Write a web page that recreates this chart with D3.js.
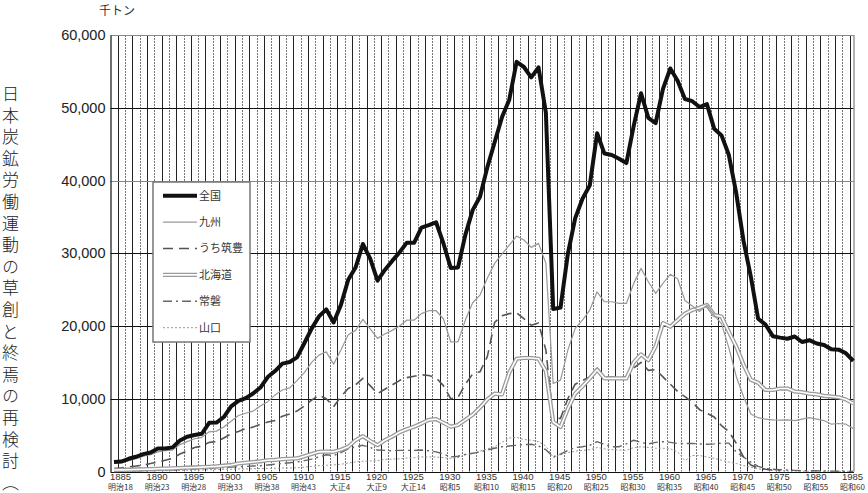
<!DOCTYPE html>
<html>
<head>
<meta charset="utf-8">
<script src="https://cdn.jsdelivr.net/npm/d3@7"></script>
<style>
  body { margin: 0; background: #fff; }
  svg { display: block; }
</style>
</head>
<body>
<div class="root"></div>
<script>
// 石炭生産高（千トン） 1885-1986
var firstYear = 1885;
var lastYear = 1986;

var zenkoku = [
  1294, 1374, 1746, 2024, 2389,
  2608, 3176, 3176, 3317, 4268,
  4773, 5020, 5188, 6696, 6722,
  7489, 8946, 9702, 10088, 10724,
  11542, 12980, 13804, 14825, 15048,
  15681, 17632, 19639, 21316, 22293,
  20491, 22902, 26361, 28029, 31271,
  29245, 26221, 27702, 28949, 30111,
  31459, 31427, 33531, 33860, 34258,
  31376, 27987, 28053, 32524, 35925,
  37762, 41803, 45258, 48684, 51113,
  56313, 55602, 54178, 55539, 49335,
  22335, 22523, 29900, 34793, 37500,
  39330, 46490, 43700, 43500, 43000,
  42400, 47500, 52000, 48600, 47900,
  52600, 55400, 53700, 51200, 50900,
  50100, 50500, 47100, 46200, 43500,
  38300, 31700, 26800, 21000, 20200,
  18600, 18400, 18250, 18560, 17800,
  18050, 17600, 17400, 16800, 16750,
  16250, 15200
];

var kyushu = [
  1100, 1200, 1500, 1750, 2100,
  2300, 2700, 2850, 2950, 3700,
  4100, 4500, 4700, 5450, 5550,
  6130, 6900, 7700, 8000, 8300,
  9000, 9600, 10500, 11200, 11500,
  12500, 13600, 15000, 16000, 16450,
  14760, 16700, 18800, 19400, 20900,
  19600, 18300, 18900, 19400, 20000,
  20800, 20800, 21700, 22100, 22100,
  21000, 17830, 17830, 20810, 23200,
  24250, 26550, 28610, 29890, 31130,
  32370, 31820, 30810, 31360, 28610,
  12100, 12560, 16690, 19670, 20810,
  22190, 24700, 23330, 23330, 23100,
  23100, 25860, 27920, 26080, 24480,
  25860, 27100, 26500, 23500, 22750,
  22000, 22870, 21500, 20300, 17000,
  13100, 10300, 7900, 7400, 7200,
  7100, 7050, 7100, 7000, 7200,
  7400, 7200, 7000, 6500, 6600,
  6500, 5900
];

var chikuho = [
  400, 500, 630, 750, 870,
  1100, 1300, 1550, 1800, 2400,
  2800, 3300, 3500, 4000, 4100,
  4600, 5200, 5500, 5900, 6100,
  6500, 6800, 7000, 7600, 7900,
  8300, 9000, 9800, 10500, 10000,
  8900, 10300, 11400, 11900, 12800,
  11800, 10700, 11300, 11900, 12500,
  12900, 13100, 13300, 13200, 12900,
  11800, 10000, 10200, 12000, 13400,
  13700, 15800, 20500, 21400, 21700,
  21800, 21000, 20100, 20400, 16700,
  7300, 7300, 10000, 12000, 12500,
  13000, 14200, 13000, 13000, 13000,
  13000, 14200, 15000, 13900, 14000,
  13000, 12000, 11000, 10300, 9500,
  8500, 8000, 7500, 6300, 5500,
  3900, 2000, 900, 500, 300,
  200, 100, null, null, null,
  null, null, null, null, null,
  null, null
];

var hokkaido = [
  200, 220, 250, 280, 300,
  330, 370, 400, 430, 480,
  520, 560, 600, 650, 700,
  800, 900, 1100, 1200, 1300,
  1400, 1550, 1600, 1700, 1750,
  1800, 2100, 2400, 2700, 2750,
  2700, 3000, 3400, 4300, 4860,
  4200, 3620, 4300, 4800, 5400,
  5800, 6150, 6600, 7100, 7200,
  6700, 6150, 6400, 7100, 7800,
  8800, 9900, 10700, 10600, 13600,
  15500, 15600, 15600, 15500, 13800,
  6800, 6100, 8600, 10700, 11700,
  12800, 14000, 12800, 12800, 12800,
  12800, 15000, 16100, 15300, 17200,
  20400, 19900, 20800, 21700, 22200,
  22500, 22900, 21500, 21300, 19200,
  17200, 14700, 12600, 12200, 11200,
  11200, 11400, 11400, 11000, 10900,
  10700, 10600, 10400, 10300, 10200,
  9900, 9350
];

var joban = [
  30, 40, 60, 80, 100,
  120, 150, 180, 220, 260,
  300, 350, 400, 450, 500,
  550, 600, 650, 700, 750,
  800, 900, 1000, 1100, 1200,
  1300, 1500, 1700, 2000, 2300,
  2200, 2600, 3100, 3400, 3600,
  3300, 2950, 2900, 2850, 2900,
  2900, 2900, 2950, 2850, 2700,
  2400, 2000, 2100, 2350, 2500,
  2700, 2950, 3200, 3400, 3500,
  3600, 3700, 3750, 3500, 3000,
  2000, 2400, 2900, 3300, 3400,
  3600, 4100, 3700, 3400, 3400,
  3800, 4300, 4000, 3800, 4000,
  4100, 4000, 3850, 3850, 3850,
  3800, 3750, 3800, 3900, 3900,
  2700, 2000, 1300, 700, 400,
  300, 250, 200, 150, 120,
  100, 100, 80, 50, 30,
  20, 10
];

var yamaguchi = [
  50, 60, 70, 80, 90,
  100, 110, 120, 130, 150,
  170, 190, 210, 240, 270,
  300, 320, 340, 360, 380,
  400, 420, 450, 470, 490,
  500, 600, 700, 800, 850,
  900, 1000, 1150, 1320, 1400,
  1450, 1500, 1650, 1700, 1750,
  1850, 1900, 2000, 2000, 2000,
  1900, 1800, 1900, 2300, 2500,
  2800, 3100, 3400, 4000, 4600,
  4700, 4400, 4300, 4100, 3500,
  1900, 2300, 2600, 2800, 2900,
  3000, 3300, 3100, 3000, 2950,
  2900, 3300, 3400, 3300, 3200,
  3200, 3100, 2700, 1500, 2200,
  2200, 2000, 1800, 1550, 1300,
  1100, 800, 600, 350, 250,
  150, 100, 80, 60, 50,
  40, 40, 30, 30, 30,
  20, 20
];

var tickYears = [1885, 1890, 1895, 1900, 1905, 1910, 1915, 1920, 1925, 1930,
  1935, 1940, 1945, 1950, 1955, 1960, 1965, 1970, 1975, 1980, 1985];
var eraLabels = ['明治18', '明治23', '明治28', '明治33', '明治38', '明治43', '大正4',
  '大正9', '大正14', '昭和5', '昭和10', '昭和15', '昭和20', '昭和25', '昭和30',
  '昭和35', '昭和40', '昭和45', '昭和50', '昭和55', '昭和60'];
var yTicks = [0, 10000, 20000, 30000, 40000, 50000, 60000];
var seriesNames = ['全国', '九州', 'うち筑豊', '北海道', '常磐', '山口'];
var sideTitle = '日本炭鉱労働運動の草創と終焉の再検討（出';

function drawChart() {
  var w = 868, h = 493;
  var top = 35, left = 110.5, right = 854;

  var svg = d3.select('.root').append('svg')
    .attr('width', w)
    .attr('height', h)
    .style('font-family', '"Liberation Sans", Arial, sans-serif');

  var years = d3.range(firstYear, lastYear + 1);

  var x = d3.scaleLinear().domain([firstYear, lastYear]).range([114, 853.3]);
  var y = d3.scaleLinear().domain([0, 60000]).range([471.5, top]);

  // vertical year grid
  svg.append('g').attr('class', 'vgrid')
    .selectAll('line')
    .data(d3.range(firstYear, lastYear))
    .enter().append('line')
      .attr('x1', function(d) { return Math.round(x(d + 0.5)) + 0.5; })
      .attr('x2', function(d) { return Math.round(x(d + 0.5)) + 0.5; })
      .attr('y1', y(60000))
      .attr('y2', y(0))
      .attr('stroke', function(d, i) { return i % 2 ? '#777' : '#222'; })
      .attr('stroke-width', 1)
      .attr('stroke-dasharray', function(d, i) { return i % 2 ? '2,1' : null; });

  // horizontal grid
  svg.append('g').attr('class', 'hgrid')
    .selectAll('line')
    .data(yTicks)
    .enter().append('line')
      .attr('x1', left)
      .attr('x2', right)
      .attr('y1', function(d) { return Math.round(y(d)) + 0.5; })
      .attr('y2', function(d) { return Math.round(y(d)) + 0.5; })
      .attr('stroke', function(d) { return (d === 40000 || d === 60000) ? '#888' : '#111'; })
      .attr('stroke-width', function(d) { return d === 0 ? 1.2 : 1; });

  svg.append('line')
    .attr('x1', right).attr('x2', right)
    .attr('y1', y(60000)).attr('y2', y(0))
    .attr('stroke', '#999').attr('stroke-width', 1.5);

  // y axis
  var yAxis = d3.axisLeft(y)
    .tickValues(yTicks)
    .tickSize(0)
    .tickPadding(5)
    .tickFormat(d3.format(','));
  var yg = svg.append('g')
    .attr('transform', 'translate(' + left + ',0)')
    .call(yAxis);
  yg.select('.domain').attr('stroke', '#111').attr('stroke-width', 1.2);
  yg.selectAll('text')
    .attr('font-size', '14.5px')
    .attr('font-family', '"Liberation Sans", Arial, sans-serif')
    .attr('fill', '#222');

  svg.append('text')
    .attr('x', 117)
    .attr('y', 15)
    .attr('text-anchor', 'middle')
    .attr('font-family', '"Noto Sans CJK JP", sans-serif')
    .attr('font-size', '12px')
    .attr('fill', '#333')
    .text('千トン');

  // x labels
  var xl = svg.append('g').attr('class', 'xlabels');
  xl.selectAll('text.yr')
    .data(tickYears)
    .enter().append('text')
      .attr('class', 'yr')
      .attr('x', function(d) { return x(d) + 6.5; })
      .attr('y', 479.5)
      .attr('text-anchor', 'middle')
      .attr('font-size', '9.5px')
      .attr('fill', '#333')
      .text(function(d) { return d; });
  xl.selectAll('text.era')
    .data(eraLabels)
    .enter().append('text')
      .attr('class', 'era')
      .attr('x', function(d, i) { return x(tickYears[i]) + 6.5; })
      .attr('y', 490)
      .attr('text-anchor', 'middle')
      .attr('font-family', '"Noto Sans CJK JP", sans-serif')
      .attr('font-size', '8px')
      .attr('fill', '#333')
      .text(function(d) { return d; });

  // series
  function pts(vals) {
    return years.map(function(yr, i) { return {year: yr, v: vals[i]}; });
  }
  var line = d3.line()
    .defined(function(d) { return d.v != null; })
    .x(function(d) { return x(d.year); })
    .y(function(d) { return y(d.v); });

  var styles = [
    {vals: yamaguchi, layers: [{stroke: '#999', width: 1, dash: '2,2'}]},
    {vals: joban, layers: [{stroke: '#666', width: 1.4, dash: '9,4,2,4'}]},
    {vals: chikuho, layers: [{stroke: '#555', width: 1.6, dash: '10,6'}]},
    {vals: hokkaido, layers: [{stroke: '#9a9a9a', width: 4.2, dash: null},
                              {stroke: '#fff', width: 1.6, dash: null}]},
    {vals: kyushu, layers: [{stroke: '#999', width: 1.2, dash: null}]},
    {vals: zenkoku, layers: [{stroke: '#111', width: 4, dash: null}]}
  ];

  var sg = svg.append('g').attr('class', 'series')
    .attr('fill', 'none')
    .attr('stroke-linejoin', 'round');
  styles.forEach(function(s) {
    s.layers.forEach(function(l) {
      sg.append('path')
        .datum(pts(s.vals))
        .attr('d', line)
        .attr('stroke', l.stroke)
        .attr('stroke-width', l.width)
        .attr('stroke-dasharray', l.dash);
    });
  });

  // legend
  var legendStyles = [
    [{stroke: '#111', width: 4, dash: null}],
    [{stroke: '#999', width: 1.2, dash: null}],
    [{stroke: '#555', width: 1.6, dash: '10,6'}],
    [{stroke: '#9a9a9a', width: 4.2, dash: null}, {stroke: '#fff', width: 1.6, dash: null}],
    [{stroke: '#666', width: 1.4, dash: '9,4,2,4'}],
    [{stroke: '#999', width: 1, dash: '2,2'}]
  ];
  var lg = svg.append('g').attr('class', 'legend');
  lg.append('rect')
    .attr('x', 153).attr('y', 182)
    .attr('width', 97).attr('height', 160)
    .attr('fill', '#fff')
    .attr('stroke', '#777')
    .attr('stroke-width', 1.5);
  var items = lg.selectAll('g.item')
    .data(seriesNames)
    .enter().append('g')
      .attr('class', 'item')
      .attr('transform', function(d, i) { return 'translate(0,' + (195.7 + i * 26.4) + ')'; });
  items.each(function(d, i) {
    var g = d3.select(this);
    legendStyles[i].forEach(function(l) {
      g.append('line')
        .attr('x1', 163).attr('x2', 197)
        .attr('y1', 0).attr('y2', 0)
        .attr('stroke', l.stroke)
        .attr('stroke-width', l.width)
        .attr('stroke-dasharray', l.dash);
    });
  });
  items.append('text')
    .attr('x', 199)
    .attr('y', 0)
    .attr('dy', '0.36em')
    .attr('font-family', '"Noto Sans CJK JP", sans-serif')
    .attr('font-size', '11px')
    .attr('fill', '#333')
    .text(function(d) { return d; });

  // vertical side title, one text in vertical writing mode
  svg.append('text')
    .attr('class', 'side')
    .attr('x', 10.5)
    .attr('y', 85)
    .style('writing-mode', 'vertical-rl')
    .style('letter-spacing', '4.6px')
    .attr('font-family', '"Noto Sans CJK JP", serif')
    .attr('font-weight', 300)
    .attr('font-size', '17px')
    .attr('fill', '#222')
    .text(sideTitle);
}

window.onload = function() {
  drawChart();
};
</script>
</body>
</html>
